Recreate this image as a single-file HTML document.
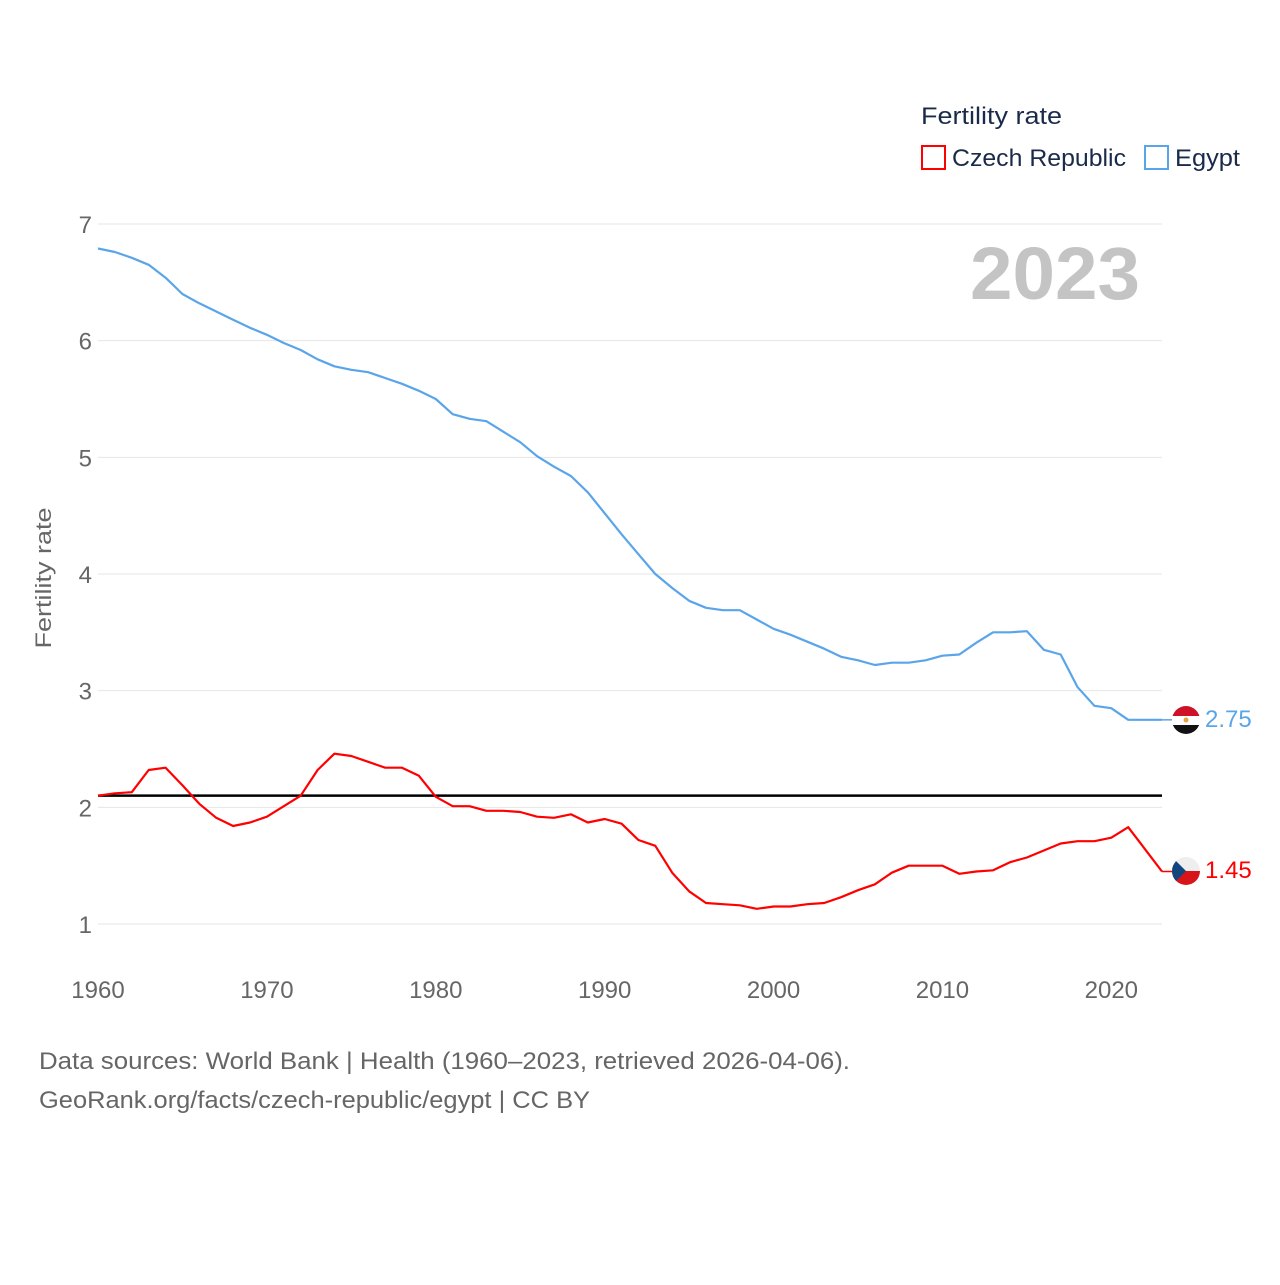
<!DOCTYPE html>
<html><head><meta charset="utf-8"><style>
body{margin:0;background:#fff;font-family:"Liberation Sans",sans-serif}
svg text{font-family:"Liberation Sans",sans-serif}
</style></head><body>
<svg id="chart" width="1280" height="1280" viewBox="0 0 1280 1280" xmlns="http://www.w3.org/2000/svg">
<rect width="1280" height="1280" fill="#fff"/>
<g id="grid"></g>
<g id="yticks"></g>
<g id="xticks"></g>
<text transform="translate(51,578) rotate(-90)" text-anchor="middle" font-size="22" fill="#666" textLength="141" lengthAdjust="spacingAndGlyphs">Fertility rate</text>
<text x="1140" y="299" text-anchor="end" font-size="74" font-weight="bold" fill="#c4c4c4" textLength="170" lengthAdjust="spacingAndGlyphs">2023</text>
<g>
<text x="921" y="124" font-size="24" fill="#1a2b4a" textLength="141" lengthAdjust="spacingAndGlyphs">Fertility rate</text>
<rect x="922" y="146" width="23" height="23" fill="#fff" stroke="#ff0000" stroke-width="2"/>
<text x="952" y="166" font-size="24" fill="#1a2b4a" textLength="174" lengthAdjust="spacingAndGlyphs">Czech Republic</text>
<rect x="1145" y="146" width="23" height="23" fill="#fff" stroke="#5aa5ea" stroke-width="2"/>
<text x="1175" y="166" font-size="24" fill="#1a2b4a" textLength="65" lengthAdjust="spacingAndGlyphs">Egypt</text>
</g>
<g id="series"></g>
<g>
<clipPath id="ce"><circle cx="1186" cy="720" r="14"/></clipPath>
<g clip-path="url(#ce)"><rect x="1172" y="706" width="28" height="10" fill="#ce1126"/><rect x="1172" y="716" width="28" height="9" fill="#fff"/><rect x="1172" y="725" width="28" height="10" fill="#111"/><circle cx="1186" cy="720" r="2.5" fill="#e8a33d"/></g>
</g>
<g>
<clipPath id="cc"><circle cx="1186" cy="871" r="14"/></clipPath>
<g clip-path="url(#cc)"><rect x="1172" y="857" width="28" height="14" fill="#eee"/><rect x="1172" y="871" width="28" height="14" fill="#d7141a"/><polygon points="1172,857 1186,871 1172,885" fill="#11457e"/></g>
</g>
<text x="1205" y="727" font-size="24" fill="#5aa5ea">2.75</text>
<text x="1205" y="878" font-size="24" fill="#ff0000">1.45</text>
<text x="39" y="1069" font-size="24" fill="#666" textLength="811" lengthAdjust="spacingAndGlyphs">Data sources: World Bank | Health (1960–2023, retrieved 2026-04-06).</text>
<text x="39" y="1108" font-size="24" fill="#666" textLength="551" lengthAdjust="spacingAndGlyphs">GeoRank.org/facts/czech-republic/egypt | CC BY</text>
</svg>
<script>
const years = [];
for (let y = 1960; y <= 2023; y++) years.push(y);
const egypt = [6.79,6.76,6.71,6.65,6.54,6.40,6.32,6.25,6.18,6.11,6.05,5.98,5.92,5.84,5.78,5.75,5.73,5.68,5.63,5.57,5.50,5.37,5.33,5.31,5.22,5.13,5.01,4.92,4.84,4.70,4.52,4.34,4.17,4.00,3.88,3.77,3.71,3.69,3.69,3.61,3.53,3.48,3.42,3.36,3.29,3.26,3.22,3.24,3.24,3.26,3.30,3.31,3.41,3.50,3.50,3.51,3.35,3.31,3.03,2.87,2.85,2.75,2.75,2.75];
const czech = [2.10,2.12,2.13,2.32,2.34,2.19,2.03,1.91,1.84,1.87,1.92,2.01,2.10,2.32,2.46,2.44,2.39,2.34,2.34,2.27,2.09,2.01,2.01,1.97,1.97,1.96,1.92,1.91,1.94,1.87,1.90,1.86,1.72,1.67,1.44,1.28,1.18,1.17,1.16,1.13,1.15,1.15,1.17,1.18,1.23,1.29,1.34,1.44,1.50,1.50,1.50,1.43,1.45,1.46,1.53,1.57,1.63,1.69,1.71,1.71,1.74,1.83,1.64,1.45];
const yTicks = [1,2,3,4,5,6,7];
const xTicks = [1960,1970,1980,1990,2000,2010,2020];
const replacementRate = [2.1];

const NS = "http://www.w3.org/2000/svg";
const X = v => 98 + (v - 1960) * (1162 - 98) / 63;
const Y = v => 924 - (v - 1) * (924 - 224) / 6;
function mk(tag, attrs, parent) {
  const e = document.createElementNS(NS, tag);
  for (const k in attrs) e.setAttribute(k, attrs[k]);
  parent.appendChild(e);
  return e;
}
const grid = document.getElementById('grid'), yt = document.getElementById('yticks'), xt = document.getElementById('xticks'), ser = document.getElementById('series');
yTicks.forEach(t => {
  const l = mk('line', {x1: 98, x2: 1162, y1: Y(t), y2: Y(t), stroke: '#e6e6e6', 'stroke-width': 1}, grid);
  
  
  const tx = mk('text', {x: 92, y: Y(t) + 9, 'text-anchor': 'end', 'font-size': 24, fill: '#666'}, yt);
  tx.textContent = t;
  
  
});
xTicks.forEach(t => {
  const tx = mk('text', {x: X(t), y: 998, 'text-anchor': 'middle', 'font-size': 24, fill: '#666'}, xt);
  tx.textContent = t;
  
  
});
const ref = mk('line', {x1: 98, x2: 1162, y1: Y(replacementRate[0]), y2: Y(replacementRate[0]), stroke: '#000', 'stroke-width': 2.5}, ser);


function line(vals, color, name) {
  const d = vals.map((v, i) => (i ? 'L' : 'M') + X(years[i]).toFixed(1) + ',' + Y(v).toFixed(1)).join('');
  const p = mk('path', {d: d, fill: 'none', stroke: color, 'stroke-width': 2.2, 'stroke-linejoin': 'round'}, ser);
  
  
  const last = vals[vals.length - 1];
  const c = mk('line', {x1: X(2023), x2: 1172, y1: Y(last), y2: Y(last), stroke: color, 'stroke-width': 1.5}, ser);
  
  
}
line(egypt, '#5aa5ea', 'line-egypt');
line(czech, '#ff0000', 'line-czech');
</script>
</body></html>
